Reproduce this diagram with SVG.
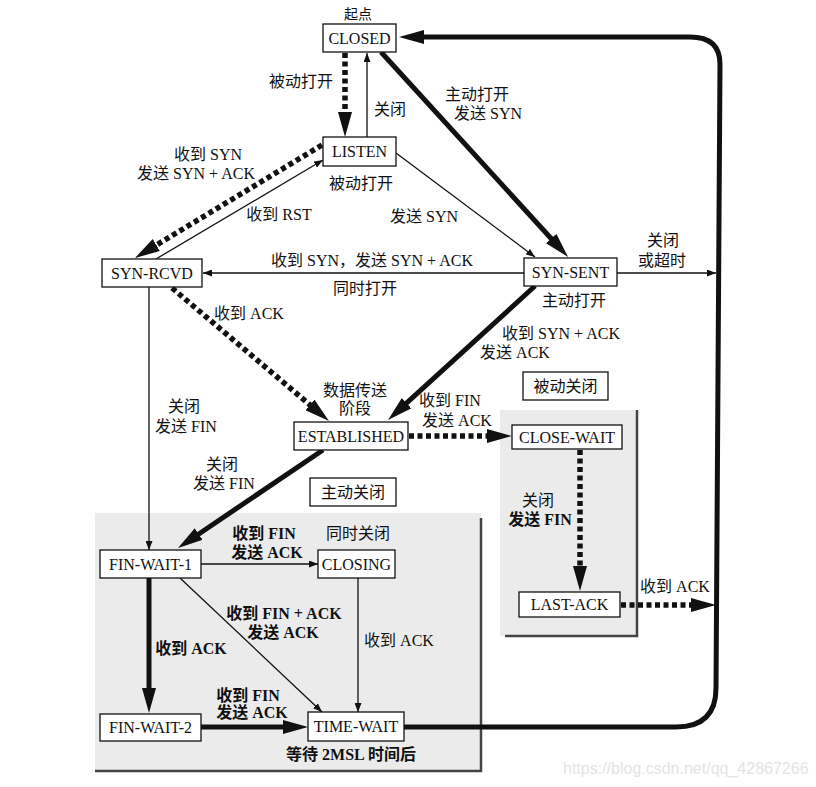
<svg xmlns="http://www.w3.org/2000/svg" width="816" height="787" viewBox="0 0 816 787">
<defs>
<marker id="big" markerUnits="userSpaceOnUse" markerWidth="25" markerHeight="14" refX="3" refY="7" orient="auto"><path d="M0,0 L25,7 L0,14 Z" fill="#111"/></marker>
<marker id="small" markerUnits="userSpaceOnUse" markerWidth="9" markerHeight="7" refX="9" refY="3.5" orient="auto"><path d="M0,0 L9,3.5 L0,7 Z" fill="#111"/></marker>
<style>
.box{fill:#fff;stroke:#111;stroke-width:1.3}
.t{font-family:"Liberation Serif","Noto Sans CJK SC",serif;font-size:16px;fill:#111;text-anchor:middle}
.b{font-weight:bold}
.thin{fill:none;stroke:#111;stroke-width:1.3}
.thick{fill:none;stroke:#111;stroke-width:5}
.dash{fill:none;stroke:#111;stroke-width:5.5;stroke-dasharray:5 3.5}
.shade{fill:#ebebeb}
.edge{fill:none;stroke:#444;stroke-width:2.5}
</style>
</defs>
<rect width="816" height="787" fill="#fff"/>

<g id="regions">
<rect class="shade" x="95" y="513" width="386" height="258"/>
<path class="edge" d="M481,518 V771 H95"/>
<rect class="shade" x="500" y="410" width="137" height="226"/>
<path class="edge" d="M637,410 V636 H505"/>
</g>

<g id="connectors">
<path class="dash" d="M345,53 V115" marker-end="url(#big)"/>
<path class="thin" d="M367,137 V53" marker-end="url(#small)"/>
<path class="thick" d="M381,52 L553.2,240.7" marker-end="url(#big)"/>
<path class="thin" d="M396,153 L535,257" marker-end="url(#small)"/>
<path class="dash" d="M322,145 L153.8,246.6" marker-end="url(#big)"/>
<path class="thin" d="M156,259 L323,160" marker-end="url(#small)"/>
<path class="thin" d="M524,273 H203" marker-end="url(#small)"/>
<path class="thin" d="M617,273 H716" marker-end="url(#small)"/>
<path class="dash" d="M172,288 L312.2,406.8" marker-end="url(#big)"/>
<path class="thick" d="M535,286 L404.3,405.2" marker-end="url(#big)"/>
<path class="thin" d="M149,287 V550" marker-end="url(#small)"/>
<path class="thick" d="M323,450 L196.2,535.7" marker-end="url(#big)"/>
<path class="dash" d="M409,436 H490" marker-end="url(#big)"/>
<path class="dash" d="M580,450 V569" marker-end="url(#big)"/>
<path class="dash" d="M621,605 H694" marker-end="url(#big)"/>
<path class="thin" d="M201,564 H318" marker-end="url(#small)"/>
<path class="thin" d="M180,578 L322,712" marker-end="url(#small)"/>
<path class="thick" d="M149,578 V691" marker-end="url(#big)"/>
<path class="thick" d="M201,727 H286" marker-end="url(#big)"/>
<path class="thin" d="M358,578 V712" marker-end="url(#small)"/>
<path class="thick" d="M404,727 H676 Q716,727 716,688 L720,64 Q720,37 690,37 H421" marker-end="url(#big)"/>
</g>

<g id="labels">
<text class="t" x="301" y="87">被动打开</text>
<text class="t" x="390" y="115">关闭</text>
<text class="t" x="477" y="100">主动打开</text>
<text class="t" x="488" y="119">发送 SYN</text>
<text class="t" x="208" y="160">收到 SYN</text>
<text class="t" x="196" y="179">发送 SYN + ACK</text>
<text class="t" x="279" y="220">收到 RST</text>
<text class="t" x="424" y="222">发送 SYN</text>
<text class="t" x="372" y="266">收到 SYN，发送 SYN + ACK</text>
<text class="t" x="365" y="294">同时打开</text>
<text class="t" x="663" y="246">关闭</text>
<text class="t" x="662" y="266">或超时</text>
<text class="t" x="561" y="339">收到 SYN + ACK</text>
<text class="t" x="515" y="358">发送 ACK</text>
<text class="t" x="249" y="319">收到 ACK</text>
<text class="t" x="184" y="412">关闭</text>
<text class="t" x="186" y="432">发送 FIN</text>
<text class="t" x="222" y="470">关闭</text>
<text class="t" x="224" y="489">发送 FIN</text>
<text class="t" x="450" y="406">收到 FIN</text>
<text class="t" x="457" y="426">发送 ACK</text>
<text class="t" x="538" y="506">关闭</text>
<text class="t b" x="540" y="525">发送 FIN</text>
<text class="t" x="675" y="592">收到 ACK</text>
<text class="t b" x="264" y="539">收到 FIN</text>
<text class="t b" x="267" y="558">发送 ACK</text>
<text class="t b" x="284" y="619">收到 FIN + ACK</text>
<text class="t b" x="283" y="638">发送 ACK</text>
<text class="t b" x="191" y="654">收到 ACK</text>
<text class="t" x="399" y="646">收到 ACK</text>
<text class="t b" x="248" y="701">收到 FIN</text>
<text class="t b" x="252" y="718">发送 ACK</text>
</g>

<g id="CLOSED">
<text class="t" x="358" y="19" style="font-size:14px">起点</text>
<rect class="box" x="323" y="24" width="73" height="28"/>
<text class="t" x="359.5" y="44">CLOSED</text>
</g>
<g id="LISTEN">
<rect class="box" x="323" y="137" width="73" height="29"/>
<text class="t" x="359.5" y="157">LISTEN</text>
<text class="t" x="361" y="189">被动打开</text>
</g>
<g id="SYN-RCVD">
<rect class="box" x="102" y="259" width="100" height="28"/>
<text class="t" x="152" y="279">SYN-RCVD</text>
</g>
<g id="SYN-SENT">
<rect class="box" x="524" y="258" width="93" height="28"/>
<text class="t" x="570.5" y="278">SYN-SENT</text>
<text class="t" x="574" y="306">主动打开</text>
</g>
<g id="ESTABLISHED">
<text class="t" x="355" y="396">数据传送</text>
<text class="t" x="355" y="414">阶段</text>
<rect class="box" x="294" y="422" width="114" height="28"/>
<text class="t" x="351" y="442">ESTABLISHED</text>
</g>
<g id="active-close">
<rect class="box" x="310" y="478" width="86" height="28"/>
<text class="t" x="353" y="498">主动关闭</text>
</g>
<g id="passive-close">
<rect class="box" x="523" y="372" width="85" height="28"/>
<text class="t" x="565.5" y="392">被动关闭</text>
</g>
<g id="CLOSE-WAIT">
<rect class="box" x="512" y="425" width="110" height="24"/>
<text class="t" x="567" y="443">CLOSE-WAIT</text>
</g>
<g id="LAST-ACK">
<rect class="box" x="519" y="592" width="101" height="25"/>
<text class="t" x="569.5" y="610">LAST-ACK</text>
</g>
<g id="FIN-WAIT-1">
<rect class="box" x="100" y="550" width="101" height="28"/>
<text class="t" x="150.5" y="570">FIN-WAIT-1</text>
</g>
<g id="CLOSING">
<text class="t" x="358" y="539">同时关闭</text>
<rect class="box" x="318" y="550" width="77" height="28"/>
<text class="t" x="356.5" y="570">CLOSING</text>
</g>
<g id="FIN-WAIT-2">
<rect class="box" x="100" y="714" width="101" height="27"/>
<text class="t" x="150.5" y="733">FIN-WAIT-2</text>
</g>
<g id="TIME-WAIT">
<rect class="box" x="308" y="712" width="96" height="29"/>
<text class="t" x="356" y="732">TIME-WAIT</text>
<text class="t b" x="351" y="760">等待 2MSL 时间后</text>
</g>

<text x="563" y="774" style="font-family:'Liberation Sans',Arial,sans-serif;font-size:16px;fill:#e4e4e4">https://blog.csdn.net/qq_42867266</text>
</svg>
